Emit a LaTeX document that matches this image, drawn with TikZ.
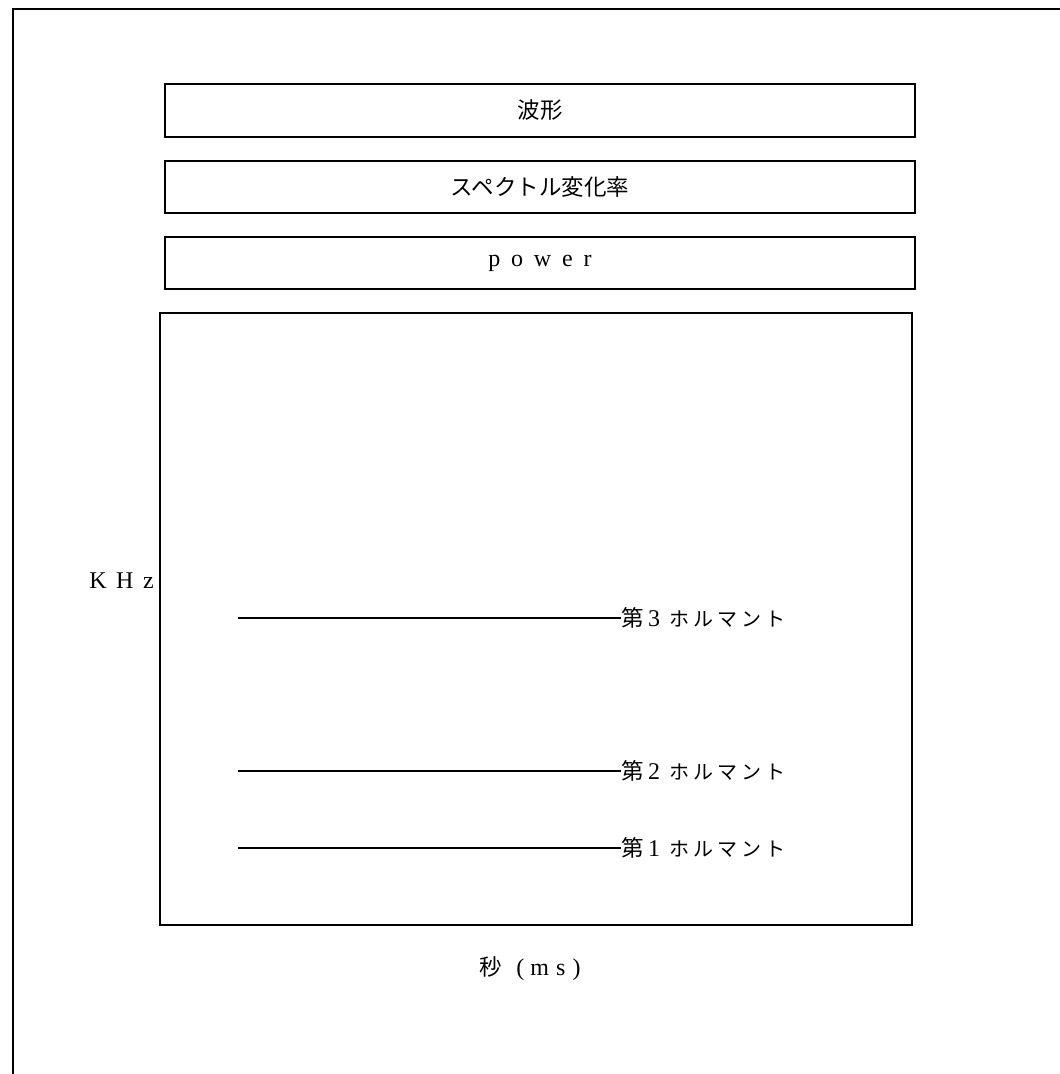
\documentclass[tikz,border=0pt]{standalone}
\usepackage{fontspec}
\setmainfont{Liberation Serif}
\newfontfamily\cjk{Noto Sans CJK JP}
\newcommand{\kana}[1]{{\cjk\fontsize{20}{24}\selectfont #1}}
\newcommand{\numr}[1]{{\rmfamily\fontsize{24}{28}\selectfont #1}}
\begin{document}
\begin{tikzpicture}[x=1pt,y=-1pt,
  frame/.style={line width=1.3pt},
  panel/.style={draw,line width=1.3pt,inner sep=0pt,minimum width=750pt},
  jtxt/.style={font=\cjk\fontsize{22.5}{26}\selectfont,inner sep=0pt},
  ltxt/.style={font=\fontsize{24}{28}\selectfont,inner sep=0pt},
  formant/.style={line width=1.2pt}]
\useasboundingbox (0,0) rectangle (1060,1074);
\coordinate (fb) at (13,1074);
\coordinate (fc) at (13,9);
\coordinate (fr) at (1060,9);
\draw[frame] (fb) -- (fc) -- (fr);

\node[panel,minimum height=53pt,jtxt] (wave) at (540,110.5) {波形};
\node[panel,minimum height=52pt,jtxt] (spec) at (540,187) {スペクトル変化率};
\node[panel,minimum height=52pt,ltxt] (power) at (540,263) {p\hspace{0.45em}o\hspace{0.45em}w\hspace{0.45em}e\hspace{0.45em}r};
\node[draw,line width=1.3pt,inner sep=0pt,minimum width=752pt,minimum height=612pt] (plot) at (536,619) {};

\node[ltxt,anchor=east] (khz) at (154,581) {K\hspace{0.4em}H\hspace{0.4em}z};
\node[ltxt,anchor=center] (sec) at (530,969) {{\cjk\fontsize{22.5}{26}\selectfont 秒}\hspace{0.6em}(\hspace{0.25em}m\hspace{0.3em}s\hspace{0.3em})};

\node[jtxt,anchor=west] (f3) at (621,618) {第\hspace{0.2em}\numr{3}\hspace{0.4em}\kana{ホ\hspace{0.2em}ル\hspace{0.2em}マ\hspace{0.2em}ン\hspace{0.2em}ト}};
\node[jtxt,anchor=west] (f2) at (621,771) {第\hspace{0.2em}\numr{2}\hspace{0.4em}\kana{ホ\hspace{0.2em}ル\hspace{0.2em}マ\hspace{0.2em}ン\hspace{0.2em}ト}};
\node[jtxt,anchor=west] (f1) at (621,848) {第\hspace{0.2em}\numr{1}\hspace{0.4em}\kana{ホ\hspace{0.2em}ル\hspace{0.2em}マ\hspace{0.2em}ン\hspace{0.2em}ト}};

\coordinate (s3) at (238,618);
\coordinate (s2) at (238,771);
\coordinate (s1) at (238,848);
\draw[formant] (s3) -- (f3.west);
\draw[formant] (s2) -- (f2.west);
\draw[formant] (s1) -- (f1.west);
\end{tikzpicture}
\end{document}
